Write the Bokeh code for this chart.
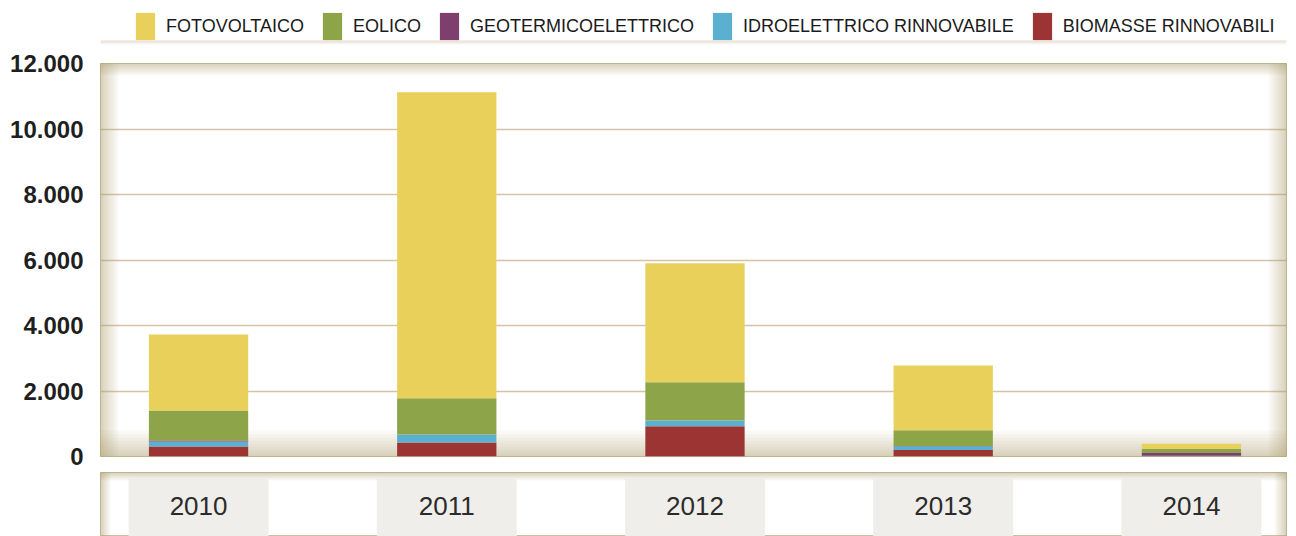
from bokeh.plotting import figure
from bokeh.models import Range1d, ColumnDataSource, Legend, LegendItem, BoxAnnotation
from bokeh.layouts import column
from bokeh.embed import file_html
from bokeh.resources import INLINE
from bokeh.core.properties import value

# ---------------- data ----------------
years = [2010, 2011, 2012, 2013, 2014]
year_labels = ["2010", "2011", "2012", "2013", "2014"]
fotovoltaico = [2320, 9350, 3630, 1975, 150]
eolico = [915, 1100, 1170, 480, 135]
geotermoelettrico = [30, 0, 0, 10, 80]
idroelettrico = [155, 245, 175, 115, 15]
biomasse = [305, 430, 925, 195, 10]

series_keys = ["biomasse", "idro", "geo", "eolico", "foto"]  # bottom -> top
series_labels = {
    "foto": "FOTOVOLTAICO",
    "eolico": "EOLICO",
    "geo": "GEOTERMICOELETTRICO",
    "idro": "IDROELETTRICO RINNOVABILE",
    "biomasse": "BIOMASSE RINNOVABILI",
}
legend_order = ["foto", "eolico", "geo", "idro", "biomasse"]
series_colors = {
    "foto": "#E8D05A",
    "eolico": "#8DA448",
    "geo": "#7E3F6F",
    "idro": "#5BAFCF",
    "biomasse": "#9C3434",
}
y_ticks = [0, 2000, 4000, 6000, 8000, 10000, 12000]
y_tick_labels = ["0", "2.000", "4.000", "6.000", "8.000", "10.000", "12.000"]

source = ColumnDataSource(dict(
    year=years, foto=fotovoltaico, eolico=eolico, geo=geotermoelettrico,
    idro=idroelettrico, biomasse=biomasse,
))

# ---------------- layout constants ----------------
W = 1296
BL, BR = 100, 10
FRAME_W = W - BL - BR
LEG_H = 51
MAIN_TOP, MAIN_FRAME_H, MAIN_BOT = 12, 393, 16
STRIP_H, STRIP_TOP = 64, 0
TAN = "#B09A74"

xr = Range1d(2009.605, 2014.383)
yr = Range1d(0, 12000)


def inner_shadow(fig, xrange, yrange, frame_w, frame_h, depths, color=TAN, alpha=0.062, n=10):
    dxp = (xrange.end - xrange.start) / frame_w
    dyp = (yrange.end - yrange.start) / frame_h
    for side, depth in depths.items():
        if depth <= 0:
            continue
        for i in range(n):
            d = depth * ((i + 1) / n) ** 1.4
            kw = dict(fill_color=color, fill_alpha=alpha, line_alpha=0, level="underlay")
            if side == "left":
                kw["right"] = xrange.start + d * dxp
            elif side == "right":
                kw["left"] = xrange.end - d * dxp
            elif side == "top":
                kw["bottom"] = yrange.end - d * dyp
            else:
                kw["top"] = yrange.start + d * dyp
            fig.add_layout(BoxAnnotation(**kw))


def bare(fig):
    fig.axis.visible = False
    fig.grid.visible = False
    fig.background_fill_color = "white"
    fig.border_fill_color = "white"


# ---------------- legend strip ----------------
lg = figure(width=W, height=LEG_H, x_range=xr, y_range=Range1d(0, LEG_H),
            min_border_left=BL, min_border_right=BR, min_border_top=0, min_border_bottom=0,
            toolbar_location=None, output_backend="svg")
bare(lg)
lg.outline_line_color = None
# shelf shadow under the legend
for k in range(4):
    lg.add_layout(BoxAnnotation(bottom=LEG_H - 44 + k, top=LEG_H - 40,
                                fill_color=TAN, fill_alpha=0.08, line_alpha=0, level="underlay"))
# legend proxies (zero-height bars, only used for the legend swatches)
proxy = ColumnDataSource(dict(x=years, top=[0] * len(years)))
leg_renderers = {k: lg.vbar(x="x", top="top", bottom=0, width=0.4, source=proxy,
                            color=series_colors[k], line_width=0) for k in legend_order}
legend = Legend(
    items=[LegendItem(label=series_labels[k], renderers=[leg_renderers[k]]) for k in legend_order],
    orientation="horizontal", location=(33, 8),
    glyph_width=24, glyph_height=34, label_standoff=9, spacing=16,
    padding=0, margin=0, border_line_alpha=0, background_fill_alpha=0,
    label_text_font="Liberation Sans", label_text_font_size="18px",
    label_text_color="#1a1a1a",
)
lg.add_layout(legend, "center")

# ---------------- main chart ----------------
p = figure(width=W, height=MAIN_TOP + MAIN_FRAME_H + MAIN_BOT, x_range=xr, y_range=yr,
           min_border_left=BL, min_border_right=BR, min_border_top=MAIN_TOP,
           min_border_bottom=MAIN_BOT, toolbar_location=None, output_backend="svg")
p.outline_line_color = "#CDBFA5"
p.outline_line_width = 1
p.background_fill_color = "white"
p.border_fill_color = "white"

inner_shadow(p, xr, yr, FRAME_W, MAIN_FRAME_H,
             {"left": 18, "right": 18, "top": 12, "bottom": 26})

p.vbar_stack(series_keys, x="year", width=0.4, source=source,
             color=[series_colors[k] for k in series_keys], line_width=0)

p.xaxis.visible = False
p.xgrid.visible = False
p.ygrid.grid_line_color = "#D3C4A8"
p.ygrid.grid_line_width = 1.5
p.yaxis.ticker = y_ticks
p.yaxis.major_label_overrides = dict(zip(y_ticks, y_tick_labels))
p.yaxis.axis_line_color = None
p.yaxis.major_tick_line_color = None
p.yaxis.minor_tick_line_color = None
p.yaxis.major_label_standoff = 11
p.yaxis.major_label_text_font = "Liberation Sans"
p.yaxis.major_label_text_font_style = "bold"
p.yaxis.major_label_text_font_size = "24px"
p.yaxis.major_label_text_color = "#1f1f1f"

# ---------------- category strip ----------------
sy = Range1d(0, 1)
s = figure(width=W, height=STRIP_H, x_range=xr, y_range=sy,
           min_border_left=BL, min_border_right=BR, min_border_top=STRIP_TOP,
           min_border_bottom=0, toolbar_location=None, output_backend="svg")
bare(s)
s.outline_line_color = "#CDBFA5"
s.vbar(x=years, top=0.92, bottom=0, width=0.564, color="#EFEEEA", line_width=0)
inner_shadow(s, xr, sy, FRAME_W, STRIP_H - STRIP_TOP,
             {"left": 10, "right": 12, "top": 8, "bottom": 0})
s.text(x=years, y=0.47, text=year_labels, text_align="center", text_baseline="middle",
       text_font=value("Liberation Sans"), text_font_size="26px", text_color="#2b2b2b")

layout = column(lg, p, s, spacing=0)
open("out.html", "w").write(file_html(layout, INLINE))
